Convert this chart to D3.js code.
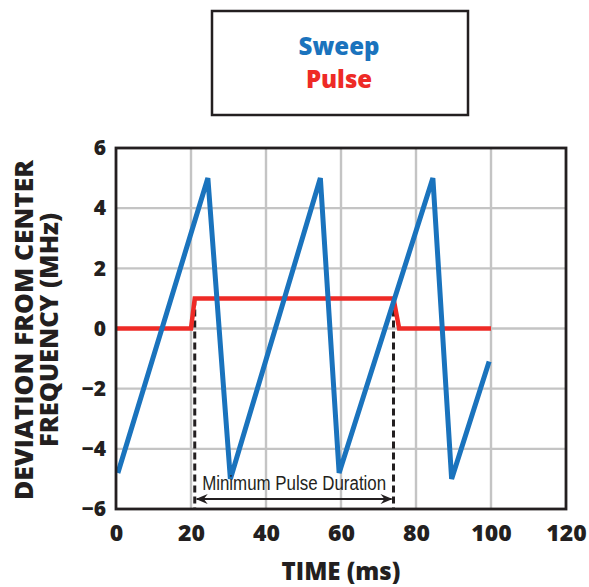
<!DOCTYPE html>
<html>
<head>
<meta charset="utf-8">
<script src="https://cdn.jsdelivr.net/npm/d3@7"></script>
<style>
  body { margin: 0; background: #fff; }
  svg { display: block; }
</style>
</head>
<body>
<svg id="chart" width="589" height="587"></svg>
<script>
// data
var sweepTime = [0.5, 24.5, 30.5, 54.5, 59.5, 84.5, 89.5, 99.5]
var sweepDev = [-4.8, 5, -5, 5, -4.8, 5, -5, -1.1]

var pulseTime = [0, 20, 21, 74, 75.5, 100]
var pulseDev = [0, 0, 1, 1, 0, 0]

var xTicks = [0, 20, 40, 60, 80, 100, 120]
var yTicks = [-6, -4, -2, 0, 2, 4, 6]

var durationStart = 21
var durationEnd = 74

var seriesNames = ["Sweep", "Pulse"]
var seriesColours = ["#1a73bd", "#ee2a26"]

var svg = d3.select("#chart")
var ink = "#231f20"
var boldFont = "'Open Sans', 'DejaVu Sans', sans-serif"

var x = d3.scaleLinear().domain([0, 120]).range([116, 566])
var y = d3.scaleLinear().domain([-6, 6]).range([509, 148])

//grid
svg.append("g").selectAll("line.vg")
    .data(xTicks.slice(1, -1))
    .enter().append("line")
    .attr("x1", function(d) { return x(d) })
    .attr("x2", function(d) { return x(d) })
    .attr("y1", y(6))
    .attr("y2", y(-6))
    .attr("stroke", "#c4c4c4")
    .attr("stroke-width", 2.4)

svg.append("g").selectAll("line.hg")
    .data(yTicks.slice(1, -1))
    .enter().append("line")
    .attr("x1", x(0))
    .attr("x2", x(120))
    .attr("y1", function(d) { return y(d) })
    .attr("y2", function(d) { return y(d) })
    .attr("stroke", "#c4c4c4")
    .attr("stroke-width", 2.4)

//axes, drawn with d3 then restyled
var xAxis = svg.append("g")
    .attr("transform", "translate(0," + y(-6) + ")")
    .call(d3.axisBottom(x).tickValues(xTicks).tickSize(0).tickPadding(16))
xAxis.select(".domain").remove()
xAxis.selectAll("text")
    .attr("font-family", boldFont)
    .attr("font-weight", 800)
    .attr("font-size", 23)
    .attr("fill", ink)

var yAxis = svg.append("g")
    .attr("transform", "translate(" + x(0) + ",0)")
    .call(d3.axisLeft(y).tickValues(yTicks).tickSize(0).tickPadding(10)
        .tickFormat(function(d) { return d < 0 ? "\u2212" + Math.abs(d) : d }))
yAxis.select(".domain").remove()
yAxis.selectAll("text")
    .attr("font-family", boldFont)
    .attr("font-weight", 800)
    .attr("font-size", 21)
    .attr("fill", ink)

//dashed markers for pulse duration
var pulseTop = d3.max(pulseDev)
svg.append("g").selectAll("line.dash")
    .data([durationStart, durationEnd])
    .enter().append("line")
    .attr("x1", function(d) { return x(d) })
    .attr("x2", function(d) { return x(d) })
    .attr("y1", y(pulseTop))
    .attr("y2", y(-6))
    .attr("stroke", ink)
    .attr("stroke-width", 3)
    .attr("stroke-dasharray", "7,4")

//series
var line = d3.line()
    .x(function(d) { return x(d[0]) })
    .y(function(d) { return y(d[1]) })

svg.append("path")
    .datum(pulseTime.map(function(t, i) { return [t, pulseDev[i]] }))
    .attr("d", line)
    .attr("fill", "none")
    .attr("stroke", seriesColours[1])
    .attr("stroke-width", 4.5)

svg.append("path")
    .datum(sweepTime.map(function(t, i) { return [t, sweepDev[i]] }))
    .attr("d", line)
    .attr("fill", "none")
    .attr("stroke", seriesColours[0])
    .attr("stroke-width", 5)
    .attr("stroke-linejoin", "miter")

//double arrow
var arrowY = y(-5.67)
var defs = svg.append("defs")
defs.append("marker")
    .attr("id", "arrowhead")
    .attr("viewBox", "0 0 12 10")
    .attr("refX", 11)
    .attr("refY", 5)
    .attr("markerWidth", 13)
    .attr("markerHeight", 10)
    .attr("markerUnits", "userSpaceOnUse")
    .attr("orient", "auto-start-reverse")
    .append("path")
    .attr("d", "M0,0 L12,5 L0,10 L4,5 Z")
    .attr("fill", ink)

svg.append("line")
    .attr("x1", x(durationStart) + 2)
    .attr("x2", x(durationEnd) - 2)
    .attr("y1", arrowY)
    .attr("y2", arrowY)
    .attr("stroke", ink)
    .attr("stroke-width", 2)
    .attr("marker-start", "url(#arrowhead)")
    .attr("marker-end", "url(#arrowhead)")

svg.append("text")
    .attr("x", (x(durationStart) + x(durationEnd)) / 2)
    .attr("y", 490)
    .attr("text-anchor", "middle")
    .attr("font-family", "'Liberation Sans Narrow', 'Liberation Sans', sans-serif")
    .attr("font-size", 20)
    .attr("fill", ink)
    .attr("textLength", 184)
    .attr("lengthAdjust", "spacingAndGlyphs")
    .text("Minimum Pulse Duration")

//plot frame
svg.append("rect")
    .attr("x", x(0))
    .attr("y", y(6))
    .attr("width", x(120) - x(0))
    .attr("height", y(-6) - y(6))
    .attr("fill", "none")
    .attr("stroke", ink)
    .attr("stroke-width", 2.8)

//axis titles
svg.append("text")
    .attr("x", x(60))
    .attr("y", 580)
    .attr("text-anchor", "middle")
    .attr("font-family", boldFont)
    .attr("font-weight", 800)
    .attr("font-size", 24)
    .attr("fill", ink)
    .text("TIME (ms)")

var yTitle = svg.append("g")
    .attr("transform", "translate(0,330) rotate(-90)")
yTitle.append("text")
    .attr("x", 0)
    .attr("y", 33)
    .attr("text-anchor", "middle")
    .attr("font-family", boldFont)
    .attr("font-weight", 800)
    .attr("font-size", 24)
    .attr("fill", ink)
    .attr("textLength", 340)
    .attr("lengthAdjust", "spacingAndGlyphs")
    .text("DEVIATION FROM CENTER")
yTitle.append("text")
    .attr("x", 0)
    .attr("y", 58)
    .attr("text-anchor", "middle")
    .attr("font-family", boldFont)
    .attr("font-weight", 800)
    .attr("font-size", 24)
    .attr("fill", ink)
    .attr("textLength", 234)
    .attr("lengthAdjust", "spacingAndGlyphs")
    .text("FREQUENCY (MHz)")

//legend box
svg.append("rect")
    .attr("x", 212)
    .attr("y", 11)
    .attr("width", 256)
    .attr("height", 104)
    .attr("fill", "#fff")
    .attr("stroke", ink)
    .attr("stroke-width", 2.5)

svg.append("g").selectAll("text")
    .data(seriesNames)
    .enter().append("text")
    .attr("x", 339)
    .attr("y", function(d, i) { return 55 + i * 33 })
    .attr("text-anchor", "middle")
    .attr("font-family", boldFont)
    .attr("font-weight", 800)
    .attr("font-size", 24)
    .attr("fill", function(d, i) { return seriesColours[i] })
    .text(function(d) { return d })
</script>
</body>
</html>
